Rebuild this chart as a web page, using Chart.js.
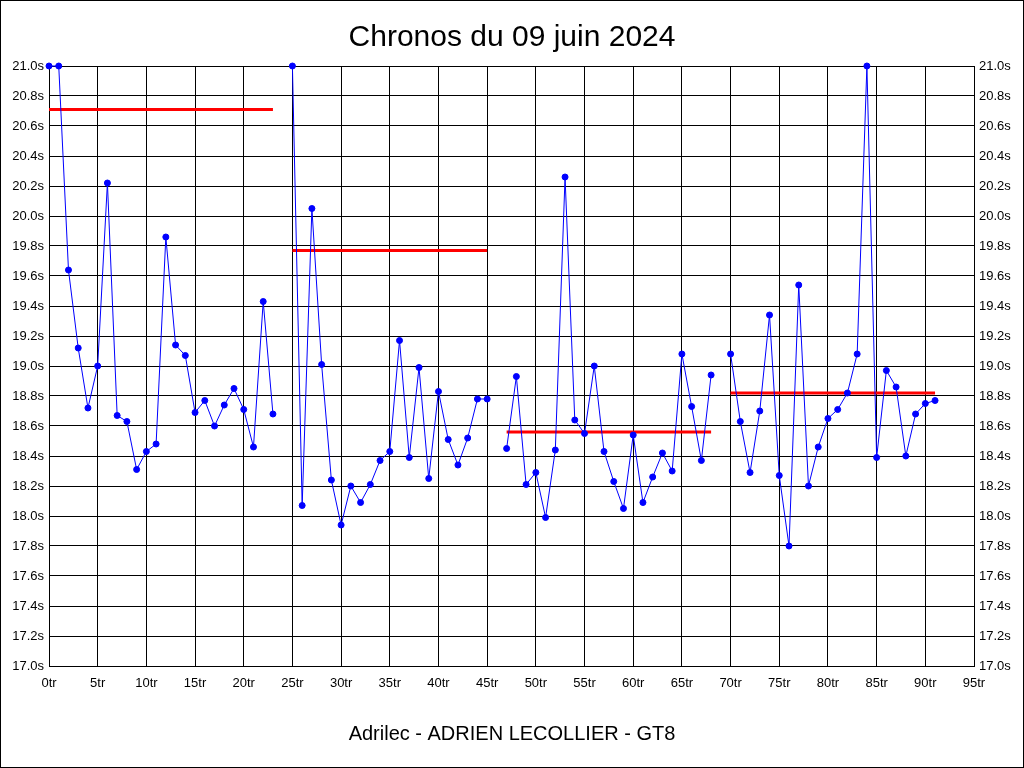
<!DOCTYPE html>
<html>
<head>
<meta charset="utf-8">
<title>Chronos du 09 juin 2024</title>
<script src="https://cdn.jsdelivr.net/npm/chart.js@4.4.1/dist/chart.umd.min.js"></script>
<style>
  html, body { margin: 0; padding: 0; background: #fff; }
  #wrap { width: 1024px; height: 768px; }
</style>
</head>
<body>
<div id="wrap"><canvas id="chronoChart" width="1024" height="768"></canvas></div>
<script>
// laps (tr) and lap times (s); null = lap not run (break in the line)
const laps = [
  0, 1, 2, 3, 4, 5, 6, 7, 8, 9, 10, 11, 12, 13, 14, 15, 16, 17, 18, 19, 20, 21, 22, 23,
  24, 25, 26, 27, 28, 29, 30, 31, 32, 33, 34, 35, 36, 37, 38, 39, 40, 41, 42, 43, 44, 45,
  46, 47, 48, 49, 50, 51, 52, 53, 54, 55, 56, 57, 58, 59, 60, 61, 62, 63, 64, 65, 66, 67, 68,
  69, 70, 71, 72, 73, 74, 75, 76, 77, 78, 79, 80, 81, 82, 83, 84, 85, 86, 87, 88, 89, 90, 91
];
const chronos = [
  21.0, 21.0, 19.64, 19.12, 18.72, 19.00, 20.22, 18.67, 18.63, 18.31, 18.43, 18.48,
  19.86, 19.14, 19.07, 18.69, 18.77, 18.60, 18.74, 18.85, 18.71, 18.46, 19.43, 18.68,
  null,
  21.0, 18.07, 20.05, 19.01, 18.24, 17.94, 18.20, 18.09, 18.21, 18.37, 18.43, 19.17,
  18.39, 18.99, 18.25, 18.83, 18.51, 18.34, 18.52, 18.78, 18.78,
  null,
  18.45, 18.93, 18.21, 18.29, 17.99, 18.44, 20.26, 18.64, 18.55, 19.00, 18.43, 18.23,
  18.05, 18.54, 18.09, 18.26, 18.42, 18.30, 19.08, 18.73, 18.37, 18.94,
  null,
  19.08, 18.63, 18.29, 18.70, 19.34, 18.27, 17.80, 19.54, 18.20, 18.46, 18.65, 18.71,
  18.82, 19.08, 21.0, 18.39, 18.97, 18.86, 18.40, 18.68, 18.75, 18.77
];

// average of each run
const avgFrom = [0, 25, 47, 70];
const avgTo = [23, 45, 68, 91];
const avgValues = [20.71, 19.77, 18.56, 18.82];

const FONT = "'Liberation Sans', Arial, sans-serif";

const lapPoints = laps.map((lap, i) => ({ x: lap, y: chronos[i] }));
const avgPoints = [];
avgValues.forEach((v, i) => {
  avgPoints.push({ x: avgFrom[i], y: v });
  avgPoints.push({ x: avgTo[i], y: v });
  avgPoints.push({ x: avgTo[i] + 1, y: null });
});

const frame = {
  id: 'frame',
  beforeDraw(chart) {
    const ctx = chart.ctx;
    ctx.save();
    ctx.fillStyle = '#fff';
    ctx.fillRect(0, 0, chart.width, chart.height);
    ctx.restore();
  },
  afterDraw(chart) {
    const ctx = chart.ctx;
    ctx.save();
    ctx.strokeStyle = '#000';
    ctx.lineWidth = 1;
    ctx.strokeRect(0.5, 0.5, chart.width - 1, chart.height - 1);
    ctx.restore();
  }
};

const tickFont = { family: FONT, size: 13 };

new Chart(document.getElementById('chronoChart').getContext('2d'), {
  type: 'line',
  data: {
    datasets: [
      {
        label: 'Chronos',
        data: lapPoints,
        borderColor: '#0000ff',
        backgroundColor: '#0000ff',
        borderWidth: 1,
        pointRadius: 3,
        pointBorderWidth: 1,
        pointBorderColor: '#0000ff',
        pointBackgroundColor: '#0000ff',
        spanGaps: false,
        clip: false,
        tension: 0
      },
      {
        label: 'Moyenne',
        data: avgPoints,
        borderColor: '#ff0000',
        borderWidth: 3,
        pointRadius: 0,
        spanGaps: false,
        clip: false
      }
    ]
  },
  options: {
    responsive: false,
    animation: false,
    events: [],
    layout: { padding: 0 },
    plugins: {
      legend: { display: false },
      tooltip: { enabled: false },
      title: {
        display: true,
        text: 'Chronos du 09 juin 2024',
        color: '#000',
        font: { family: FONT, size: 30, weight: 'normal' },
        padding: { top: 20, bottom: 10 }
      },
      subtitle: {
        display: true,
        position: 'bottom',
        text: 'Adrilec - ADRIEN LECOLLIER - GT8',
        color: '#000',
        font: { family: FONT, size: 20, weight: 'normal' },
        padding: { top: 26, bottom: 22 }
      }
    },
    scales: {
      x: {
        type: 'linear',
        min: 0,
        max: 95,
        grid: { color: '#000', lineWidth: 1, drawTicks: false },
        border: { color: '#000', width: 1 },
        ticks: {
          stepSize: 5,
          autoSkip: false,
          maxRotation: 0,
          padding: 10,
          color: '#000',
          font: tickFont,
          callback: v => v + 'tr'
        },
        afterFit: s => { s.height = 30; }
      },
      y: {
        position: 'left',
        min: 17,
        max: 21,
        grid: { color: '#000', lineWidth: 1, drawTicks: false },
        border: { color: '#000', width: 1 },
        ticks: {
          stepSize: 0.2,
          padding: 5,
          color: '#000',
          font: tickFont,
          callback: v => Number(v).toFixed(1) + 's'
        },
        afterFit: s => { s.width = 49; }
      },
      y2: {
        position: 'right',
        min: 17,
        max: 21,
        grid: { display: false, drawTicks: false },
        border: { color: '#000', width: 1 },
        ticks: {
          stepSize: 0.2,
          padding: 5,
          color: '#000',
          font: tickFont,
          callback: v => Number(v).toFixed(1) + 's'
        },
        afterFit: s => { s.width = 50; }
      }
    }
  },
  plugins: [frame]
});
</script>
</body>
</html>
